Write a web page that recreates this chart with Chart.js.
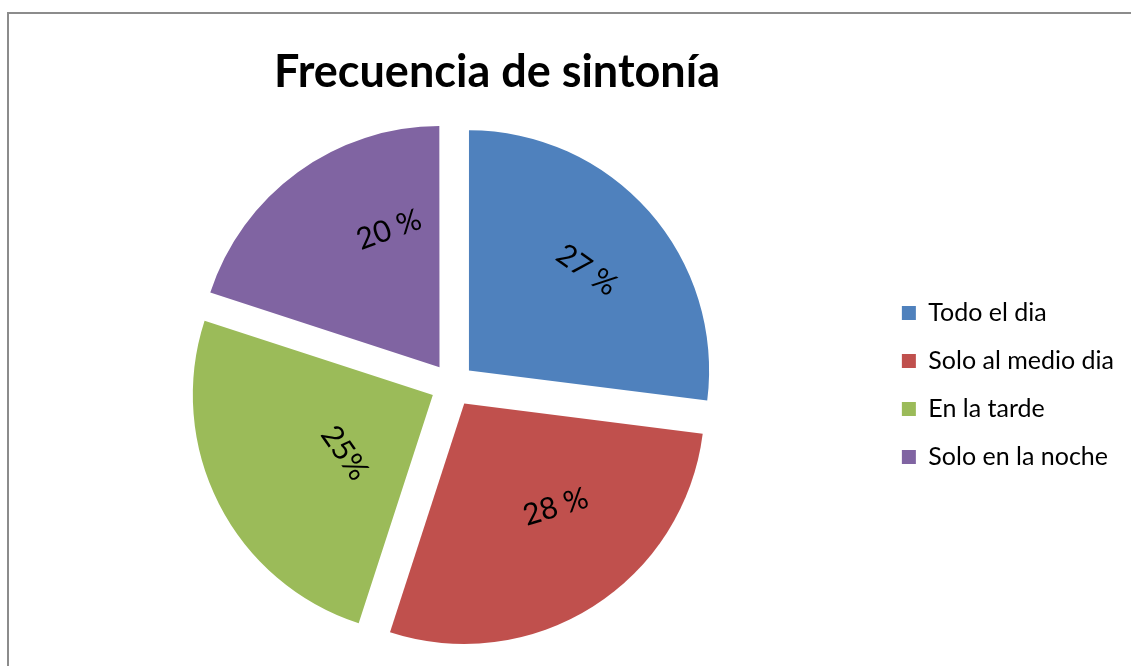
<!DOCTYPE html>
<html>
<head>
<meta charset="utf-8">
<script src="https://cdn.jsdelivr.net/npm/chart.js@4.4.1/dist/chart.umd.min.js"></script>
<style>
  html, body { margin: 0; padding: 0; background: #fff; overflow: hidden; }
  #frame { position: absolute; left: 7px; top: 12px; width: 1200px; height: 700px;
           border-left: 2px solid #8c8c8c; border-top: 2px solid #8c8c8c; }
  #wrap { position: absolute; left: 0; top: 0; width: 1131px; height: 666px; }
</style>
</head>
<body>
<div id="frame"></div>
<div id="wrap"><canvas id="pieChart"></canvas></div>
<script>
const categories = ['Todo el dia', 'Solo al medio dia', 'En la tarde', 'Solo en la noche'];
const values = [27, 28, 25, 20];
const valueLabels = ['27 %', '28 %', '25%', '20 %'];
const chartTitle = 'Frecuencia de sintonía';

const colors = ['#4f81bd', '#c0504d', '#9bbb59', '#8064a2'];

// titulo centrado sobre el pastel, no sobre todo el lienzo
const titlePlugin = {
    id: 'pieTitle',
    afterDraw(chart, args, opts) {
        const ctx = chart.ctx;
        ctx.save();
        ctx.font = 'bold ' + opts.size + 'px Lato';
        ctx.fillStyle = '#000';
        ctx.textAlign = 'center';
        ctx.textBaseline = 'alphabetic';
        ctx.fillText(opts.text, opts.x, opts.y);
        ctx.restore();
    }
};

// etiquetas giradas dentro de cada sector, como en Excel
const sliceLabels = {
    id: 'sliceLabels',
    afterDatasetsDraw(chart, args, opts) {
        const ctx = chart.ctx;
        const meta = chart.getDatasetMeta(0);
        ctx.save();
        ctx.font = opts.size + 'px Lato';
        ctx.fillStyle = '#000';
        ctx.textAlign = 'center';
        ctx.textBaseline = 'middle';
        meta.data.forEach((arc, i) => {
            const p = arc.getProps(['x', 'y', 'startAngle', 'endAngle', 'outerRadius'], true);
            const mid = (p.startAngle + p.endAngle) / 2;
            const off = (arc.options.offset || 0) / 4;
            const vx = p.x + Math.cos(mid) * off;
            const vy = p.y + Math.sin(mid) * off;
            const pl = opts.place[i];
            const a = p.startAngle + pl.frac * (p.endAngle - p.startAngle);
            const d = pl.r * p.outerRadius;
            ctx.save();
            ctx.translate(vx + Math.cos(a) * d, vy + Math.sin(a) * d);
            ctx.rotate(pl.rot * Math.PI / 180);
            ctx.fillText(valueLabels[i], 0, 0);
            ctx.restore();
        });
        ctx.restore();
    }
};

new Chart(document.getElementById('pieChart'), {
    type: 'pie',
    data: {
        labels: categories,
        datasets: [{
            data: values,
            backgroundColor: colors,
            borderWidth: 0,
            offset: 88,
        }]
    },
    options: {
        responsive: true,
        maintainAspectRatio: false,
        animation: false,
        events: [],
        radius: 240,
        layout: { padding: { top: 104, bottom: 0, left: 26, right: 7 } },
        plugins: {
            title: { display: false },
            tooltip: { enabled: false },
            legend: {
                position: 'right',
                labels: {
                    boxWidth: 14,
                    boxHeight: 14,
                    padding: 23,
                    color: '#000',
                    font: { family: 'Lato', size: 25 },
                },
            },
            pieTitle: { text: chartTitle, x: 497, y: 87, size: 45 },
            sliceLabels: {
                size: 30,
                place: [
                    { frac: 0.51, r: 0.645, rot: 35 },
                    { frac: 0.41, r: 0.575, rot: -17 },
                    { frac: 0.43, r: 0.44, rot: 55 },
                    { frac: 0.72, r: 0.61, rot: -20 },
                ],
            },
        },
    },
    plugins: [titlePlugin, sliceLabels],
});
</script>
</body>
</html>
